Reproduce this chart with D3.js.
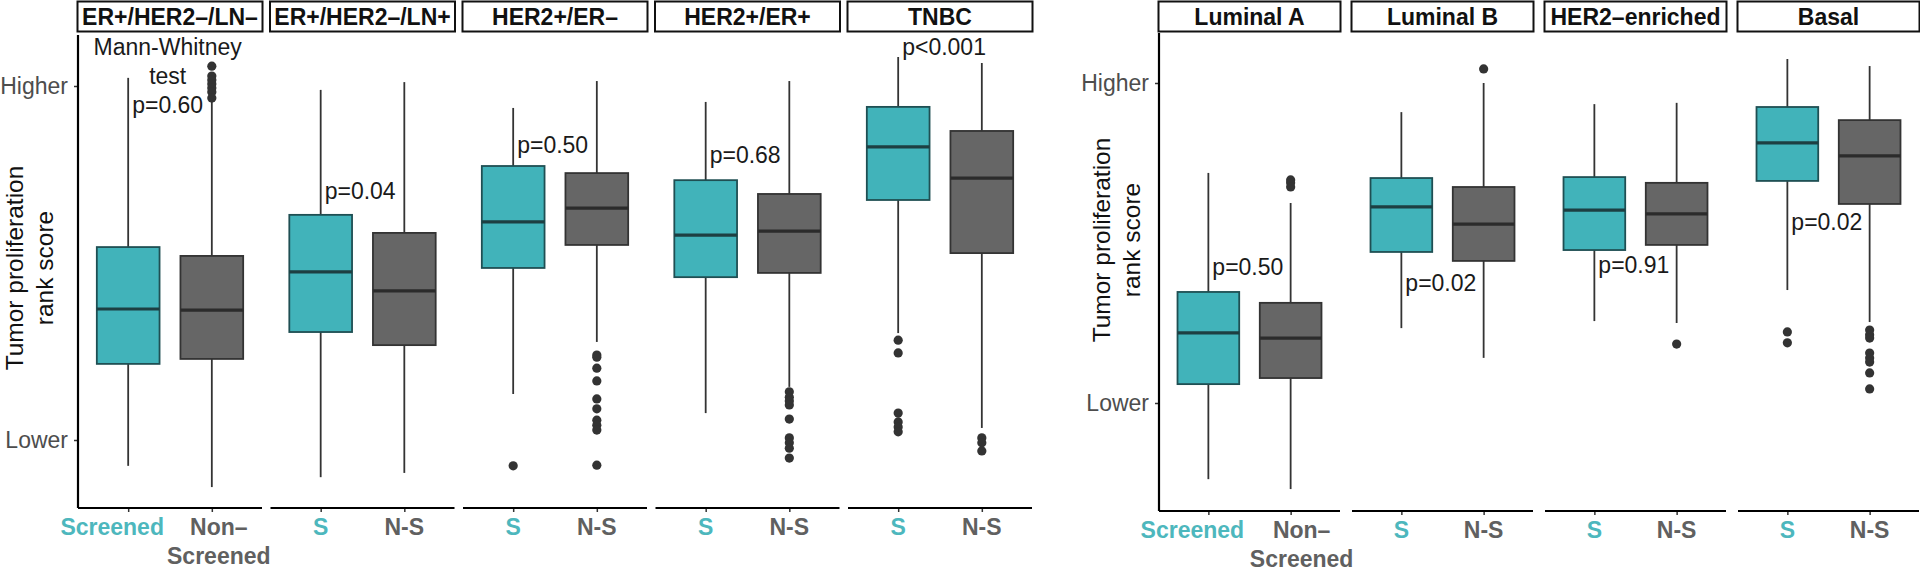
<!DOCTYPE html>
<html>
<head>
<meta charset="utf-8">
<script src="https://cdn.jsdelivr.net/npm/d3@7"></script>
<style>
  html, body { margin: 0; padding: 0; background: #fff; }
  svg { display: block; font-family: "Liberation Sans", Arial, Helvetica, sans-serif; }
</style>
</head>
<body>
<svg id="chart" width="1920" height="578"></svg>
<script>
// ---------------- DATA ----------------
// Score scale: 0 = "Lower", 1 = "Higher"
const yTickValues = [0, 1];
const yTickLabels = ["Lower", "Higher"];
const yTitleLines = ["Tumor proliferation", "rank score"];

const armCodes = ["S", "N-S"];
const firstPanelLabels = [["Screened"], ["Non–", "Screened"]];

// Left figure: clinical subgroups
const leftGroups = ["ER+/HER2–/LN–", "ER+/HER2–/LN+", "HER2+/ER–", "HER2+/ER+", "TNBC"];
// [lower whisker, Q1, median, Q3, upper whisker]
const leftScreened = [
  [-0.073, 0.215, 0.370, 0.545, 1.023],
  [-0.105, 0.305, 0.475, 0.636, 0.989],
  [ 0.130, 0.486, 0.616, 0.774, 0.938],
  [ 0.076, 0.460, 0.579, 0.734, 0.955],
  [ 0.302, 0.678, 0.828, 0.941, 1.082]
];
const leftNonScreened = [
  [-0.133, 0.229, 0.367, 0.520, 0.960],
  [-0.093, 0.268, 0.421, 0.585, 1.011],
  [ 0.277, 0.551, 0.655, 0.754, 1.014],
  [ 0.150, 0.472, 0.590, 0.695, 1.014],
  [ 0.034, 0.528, 0.740, 0.873, 1.065]
];
const leftOutScreened = [
  [],
  [],
  [-0.073],
  [],
  [0.282, 0.246, 0.076, 0.051, 0.037, 0.023]
];
const leftOutNonScreened = [
  [1.056, 1.028, 1.017, 1.006, 0.994, 0.983, 0.966],
  [],
  [0.240, 0.234, 0.203, 0.167, 0.116, 0.088, 0.056, 0.042, 0.028, -0.071],
  [0.136, 0.121, 0.110, 0.099, 0.059, 0.006, -0.008, -0.023, -0.051],
  [0.006, -0.008, -0.031]
];
const leftPText = ["p=0.60", "p=0.04", "p=0.50", "p=0.68", "p<0.001"];
const leftPY = [0.946, 0.703, 0.833, 0.805, 1.110];
const testHeader = ["Mann-Whitney", "test"];

// Right figure: PAM50 subtypes
const rightGroups = ["Luminal A", "Luminal B", "HER2–enriched", "Basal"];
const rightScreened = [
  [-0.238, 0.059, 0.219, 0.347, 0.719],
  [ 0.234, 0.472, 0.613, 0.703, 0.909],
  [ 0.256, 0.478, 0.603, 0.706, 0.934],
  [ 0.353, 0.694, 0.813, 0.925, 1.075]
];
const rightNonScreened = [
  [-0.269, 0.078, 0.203, 0.313, 0.625],
  [ 0.141, 0.444, 0.559, 0.675, 1.000],
  [ 0.250, 0.494, 0.591, 0.688, 0.938],
  [ 0.253, 0.622, 0.772, 0.884, 1.053]
];
const rightOutScreened = [
  [],
  [],
  [],
  [0.222, 0.188]
];
const rightOutNonScreened = [
  [0.697, 0.688, 0.675],
  [1.044],
  [0.184],
  [0.228, 0.213, 0.203, 0.156, 0.141, 0.128, 0.094, 0.044]
];
const rightPText = ["p=0.50", "p=0.02", "p=0.91", "p=0.02"];
const rightPY = [0.425, 0.375, 0.431, 0.566];

// ---------------- STYLE ----------------
const TEAL = "#41b3ba", TEAL_TXT = "#4db7bd";
const GREY = "#666666", GREY_TXT = "#606060";
const DARK = "#333333";
const FONT = 23;

const svg = d3.select("#chart");

function drawFigure(cfg) {
  const g = svg.append("g");
  const y = d3.scaleLinear().domain([0, 1]).range([cfg.yLower, cfg.yHigher]);
  const nP = cfg.groups.length;

  // y axis
  const yAxis = d3.axisLeft(y).tickValues(yTickValues)
    .tickFormat((d, i) => yTickLabels[i]).tickSize(4).tickPadding(6);
  const ya = g.append("g").attr("transform", `translate(${cfg.x0},0)`).call(yAxis);
  ya.select(".domain").remove();
  ya.selectAll(".tick line").attr("stroke", DARK).attr("stroke-width", 1.5);
  ya.selectAll(".tick text").attr("font-size", FONT).attr("fill", "#4d4d4d")
    .attr("font-family", "Liberation Sans, Arial, sans-serif");
  g.append("line").attr("x1", cfg.x0).attr("x2", cfg.x0)
    .attr("y1", cfg.top).attr("y2", cfg.bottom)
    .attr("stroke", "#000").attr("stroke-width", 2.2);

  // y title
  const yt = g.append("text")
    .attr("transform", `translate(${cfg.titleX},${cfg.titleY}) rotate(-90)`)
    .attr("text-anchor", "middle").attr("font-size", 24.5).attr("fill", "#111");
  yTitleLines.forEach((t, i) => {
    yt.append("tspan").attr("x", 0).attr("y", 19 + i * 30).text(t);
  });

  for (let p = 0; p < nP; p++) {
    const px = cfg.x0 + p * cfg.step;
    const x = d3.scalePoint().domain(armCodes).range([px, px + cfg.w]).padding(0.6);
    const bw = x.step() * 0.75;
    const pg = g.append("g");

    // strip
    pg.append("rect").attr("x", px - 0.5).attr("y", 1.5).attr("width", cfg.w + 1).attr("height", 30)
      .attr("fill", "#fff").attr("stroke", "#111").attr("stroke-width", 2);
    pg.append("text").attr("x", px + cfg.w / 2).attr("y", 16.5)
      .attr("text-anchor", "middle").attr("dominant-baseline", "central")
      .attr("font-weight", "bold").attr("font-size", 23).attr("fill", "#111")
      .text(cfg.groups[p]);

    // x axis
    const xAxis = d3.axisBottom(x).tickSize(4).tickFormat("");
    const xa = pg.append("g").attr("transform", `translate(0,${cfg.bottom})`).call(xAxis);
    xa.select(".domain").remove();
    xa.selectAll(".tick line").attr("stroke", DARK).attr("stroke-width", 1.5);
    pg.append("line").attr("x1", px).attr("x2", px + cfg.w)
      .attr("y1", cfg.bottom).attr("y2", cfg.bottom)
      .attr("stroke", "#000").attr("stroke-width", 2.2);

    // x labels
    armCodes.forEach((a, k) => {
      const lines = p === 0 ? firstPanelLabels[k] : [a];
      const dx = p === 0 ? cfg.firstDx[k] : 0;
      const t = pg.append("text").attr("text-anchor", "middle")
        .attr("font-weight", "bold").attr("font-size", FONT)
        .attr("fill", k === 0 ? TEAL_TXT : GREY_TXT);
      lines.forEach((ln, j) => {
        t.append("tspan").attr("x", x(a) + dx).attr("y", cfg.bottom + 27 + j * 29).text(ln);
      });
    });

    // boxes
    const stats = [cfg.screened[p], cfg.nonScreened[p]];
    const outs = [cfg.outS[p], cfg.outNS[p]];
    armCodes.forEach((a, k) => {
      const s = stats[k];
      const cx = x(a);
      pg.append("line").attr("x1", cx).attr("x2", cx).attr("y1", y(s[0])).attr("y2", y(s[1]))
        .attr("stroke", DARK).attr("stroke-width", 1.8);
      pg.append("line").attr("x1", cx).attr("x2", cx).attr("y1", y(s[3])).attr("y2", y(s[4]))
        .attr("stroke", DARK).attr("stroke-width", 1.8);
      pg.append("rect").attr("x", cx - bw / 2).attr("width", bw)
        .attr("y", y(s[3])).attr("height", y(s[1]) - y(s[3]))
        .attr("fill", k === 0 ? TEAL : GREY).attr("stroke", k === 0 ? "#1f4f53" : DARK).attr("stroke-width", 1.8);
      pg.append("line").attr("x1", cx - bw / 2).attr("x2", cx + bw / 2)
        .attr("y1", y(s[2])).attr("y2", y(s[2]))
        .attr("stroke", k === 0 ? "#1d3f42" : "#2b2b2b").attr("stroke-width", 3.2);
      pg.selectAll(null).data(outs[k]).enter().append("circle")
        .attr("cx", cx).attr("cy", d => y(d)).attr("r", 4.6).attr("fill", DARK);
    });

    // p-value annotation
    const pt = pg.append("text").attr("x", x(armCodes[0]) + 4).attr("y", y(cfg.pY[p]))
      .attr("dominant-baseline", "central").attr("font-size", FONT).attr("fill", "#1a1a1a")
      .text(cfg.pText[p]);
    if (cfg.header && p === 0) {
      const bb = pt.node().getBBox();
      const cxT = bb.x + bb.width / 2;
      testHeader.forEach((h, j) => {
        pg.append("text").attr("x", cxT).attr("y", y(cfg.pY[p]) - (testHeader.length - j) * 29)
          .attr("text-anchor", "middle").attr("dominant-baseline", "central")
          .attr("font-size", FONT).attr("fill", "#1a1a1a").text(h);
      });
    }
  }
}

drawFigure({
  groups: leftGroups, screened: leftScreened, nonScreened: leftNonScreened,
  outS: leftOutScreened, outNS: leftOutNonScreened, pText: leftPText, pY: leftPY,
  header: true,
  x0: 78, w: 184, step: 192.5, top: 35, bottom: 508, yLower: 440, yHigher: 86,
  titleX: 4, titleY: 268, firstDx: [-16, 7]
});

drawFigure({
  groups: rightGroups, screened: rightScreened, nonScreened: rightNonScreened,
  outS: rightOutScreened, outNS: rightOutNonScreened, pText: rightPText, pY: rightPY,
  header: false,
  x0: 1159, w: 181, step: 193, top: 33, bottom: 511, yLower: 403, yHigher: 83,
  titleX: 1091, titleY: 240, firstDx: [-16, 11]
});
</script>
</body>
</html>
